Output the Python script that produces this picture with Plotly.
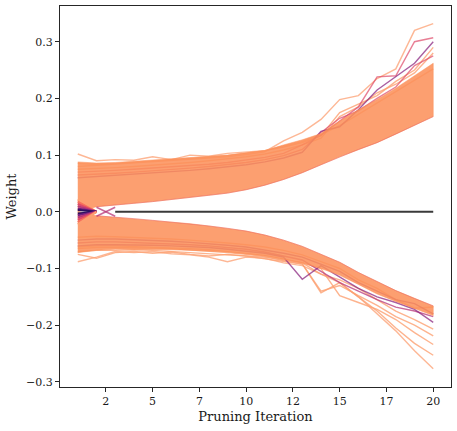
import plotly.graph_objects as go

# ── Data ─────────────────────────────────────────────────────────────────────
iterations = list(range(1, 21))

# dense bands of surviving weights: outer / inner edge per iteration
pos_outer = [.088, .086, .087, .089, .091, .093, .095, .097, .100, .104,
             .108, .118, .127, .138, .160, .180, .198, .218, .240, .262]
pos_inner = [.000, .009, .0125, .015, .018, .022, .025, .029, .033, .039,
             .047, .057, .069, .083, .097, .110, .122, .137, .152, .168]
neg_outer = [-.072, -.068, -.066, -.066, -.066, -.067, -.068, -.069, -.071, -.074,
             -.078, -.084, -.090, -.100, -.112, -.128, -.145, -.158, -.170, -.183]
neg_inner = [-.000, -.007, -.009, -.012, -.015, -.018, -.021, -.025, -.029, -.034,
             -.041, -.050, -.061, -.075, -.089, -.107, -.123, -.139, -.153, -.166]

# individual trajectories that leave the bands
pos_a = [.080, .082, .084, .086, .088, .090, .092, .094, .097, .101,
         .106, .125, .140, .163, .198, .205, .235, .252, .320, .332]
pos_b = [.070, .071, .073, .075, .077, .079, .081, .084, .087, .091,
         .096, .103, .118, .135, .160, .185, .238, .240, .300, .307]
pos_c = [.060, .062, .064, .066, .068, .070, .073, .076, .079, .083,
         .088, .095, .105, .142, .150, .180, .215, .238, .262, .300]
pos_d = [.085, .084, .085, .087, .089, .091, .093, .096, .099, .103,
         .108, .114, .122, .134, .175, .190, .205, .230, .250, .290]
pos_e = [.075, .076, .078, .080, .082, .084, .087, .090, .093, .097,
         .102, .109, .118, .130, .168, .185, .210, .225, .245, .280]
pos_f = [.065, .066, .068, .070, .072, .074, .077, .080, .083, .087,
         .092, .099, .110, .140, .165, .178, .200, .220, .258, .275]
pos_g = [.102, .090, .092, .091, .097, .092, .100, .098, .103, .106,
         .108, .116, .124, .136, .152, .172, .192, .212, .232, .252]

neg_a = [-.088, -.080, -.070, -.072, -.070, -.074, -.076, -.080, -.088, -.080,
         -.082, -.090, -.095, -.110, -.125, -.150, -.180, -.210, -.245, -.277]
neg_b = [-.075, -.082, -.072, -.070, -.073, -.071, -.075, -.078, -.075, -.078,
         -.083, -.088, -.092, -.143, -.125, -.150, -.175, -.205, -.232, -.253]
neg_c = [-.070, -.068, -.068, -.067, -.068, -.070, -.071, -.073, -.075, -.077,
         -.080, -.085, -.090, -.100, -.148, -.160, -.172, -.190, -.213, -.234]
neg_d = [-.060, -.058, -.058, -.058, -.059, -.060, -.061, -.063, -.066, -.069,
         -.073, -.080, -.119, -.095, -.115, -.135, -.150, -.160, -.172, -.195]
neg_e = [-.055, -.053, -.053, -.054, -.055, -.056, -.058, -.060, -.063, -.066,
         -.071, -.078, -.085, -.105, -.125, -.140, -.155, -.168, -.175, -.185]
neg_f = [-.050, -.048, -.048, -.049, -.050, -.052, -.054, -.056, -.059, -.062,
         -.067, -.073, -.080, -.092, -.105, -.125, -.140, -.155, -.162, -.180]
neg_g = [-.065, -.063, -.063, -.063, -.064, -.065, -.067, -.069, -.072, -.075,
         -.079, -.086, -.092, -.140, -.130, -.148, -.165, -.185, -.200, -.219]
neg_h = [-.062, -.060, -.060, -.061, -.062, -.063, -.065, -.067, -.070, -.073,
         -.077, -.083, -.090, -.110, -.120, -.135, -.155, -.175, -.190, -.207]
neg_i = [-.045, -.043, -.044, -.045, -.046, -.048, -.050, -.052, -.055, -.058,
         -.062, -.068, -.076, -.088, -.100, -.120, -.135, -.155, -.170, -.168]

# weights pruned after the first iteration (start value -> 0)
fan_start = [.022, .018, .014, .010, .006, .003, -.003, -.006, -.010, -.014, -.018, -.022]
cross_up = [-.008, .008]     # iterations 2-3
cross_down = [.008, -.008]
pruned = [0.0] * 18           # iterations 3..20

y_ticks = [-0.3, -0.2, -0.1, 0.0, 0.1, 0.2, 0.3]
x_ticks = [2.5, 5, 7.5, 10, 12.5, 15, 17.5, 20]
x_tick_text = ["2", "5", "7", "10", "12", "15", "17", "20"]

# ── Style ───────────────────────────────────────────────────────────────────
BAND = "rgba(251,143,89,0.86)"   # ≈ #fca072 over white, lets lines show faintly
SALMON = "rgba(252,160,114,0.8)"
LIGHT = "rgba(253,170,130,0.85)"
PINK = "rgba(222,73,104,0.7)"
MAGENTA = "rgba(183,55,121,0.75)"
PURPLE = "rgba(140,41,129,0.75)"
FAN = ["#fca072", "#f7705c", "#de4968", "#b73779", "#721f81", "#2c115f",
       "#2c115f", "#721f81", "#b73779", "#de4968", "#f7705c", "#fca072"]
FONT = "DejaVu Serif"

fig = go.Figure()


def band(outer, inner):
    fig.add_trace(go.Scatter(
        x=iterations + iterations[::-1], y=outer + inner[::-1],
        fill="toself", fillcolor=BAND, mode="lines",
        line=dict(width=0.6, color=BAND), hoverinfo="skip"))


def line(x, y, color, width=1.4):
    fig.add_trace(go.Scatter(x=x, y=y, mode="lines",
                             line=dict(color=color, width=width)))


# trajectories first, the dense bands drawn over them
for ys, c in [(pos_g, LIGHT), (pos_d, SALMON), (pos_e, SALMON), (pos_f, PINK),
              (pos_a, LIGHT), (pos_b, PINK), (pos_c, PURPLE),
              (neg_a, LIGHT), (neg_b, SALMON), (neg_c, SALMON), (neg_g, SALMON),
              (neg_h, SALMON), (neg_i, SALMON), (neg_e, MAGENTA),
              (neg_f, PURPLE), (neg_d, PURPLE)]:
    line(iterations, ys, c)

band(pos_outer, pos_inner)
band(neg_outer, neg_inner)

# slight red tint along the inner edges
line(iterations[1:], pos_inner[1:], "rgba(230,95,100,0.45)", 1)
line(iterations[1:], neg_inner[1:], "rgba(230,95,100,0.45)", 1)

# pruned weights
line(iterations[2:], pruned, "#3a3a3a", 2)
line(iterations[1:3], cross_up, MAGENTA, 1.6)
line(iterations[1:3], cross_down, MAGENTA, 1.6)
for v, c in zip(fan_start, FAN):
    line(iterations[:2], [v, 0.0], c, 2)

axis = dict(showline=True, linecolor="#262626", linewidth=1, mirror=True,
            ticks="outside", ticklen=4, tickcolor="#262626", showgrid=False,
            zeroline=False, automargin=False)

fig.update_layout(
    width=457, height=431,
    margin=dict(l=60, r=6, t=6, b=44),
    paper_bgcolor="white", plot_bgcolor="white",
    showlegend=False,
    font=dict(family=FONT, size=11, color="#1a1a1a"),
    xaxis=dict(axis, range=[0.05, 20.95], tickvals=x_ticks,
               ticktext=x_tick_text,
               title=dict(text="Pruning Iteration", standoff=4)),
    yaxis=dict(axis, range=[-0.309, 0.363], tickvals=y_ticks,
               ticktext=[f"{v:.1f}".replace("-", "\u2212") for v in y_ticks],
               title=dict(text="Weight", standoff=6)),
)

fig.write_html("out.html", config={"displayModeBar": False},
               post_script="document.body.style.margin='0';")
